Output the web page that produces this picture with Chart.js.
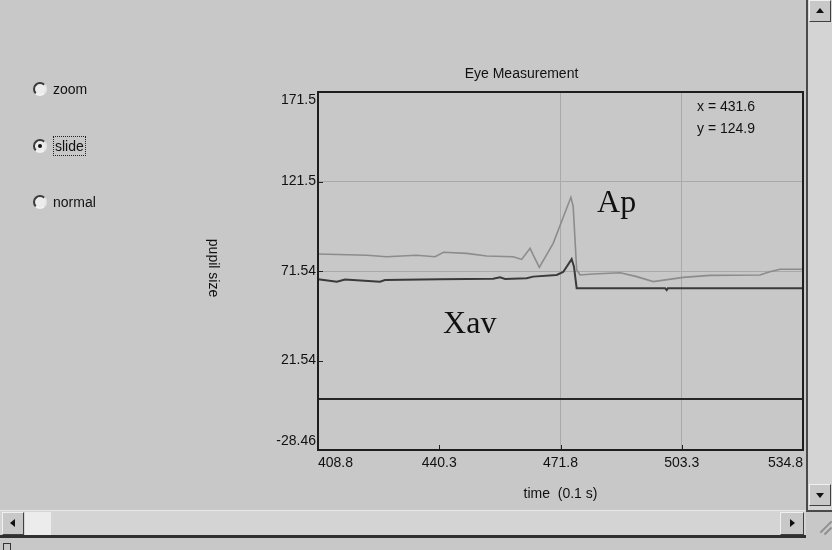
<!DOCTYPE html>
<html><head><meta charset="utf-8">
<script src="https://cdn.jsdelivr.net/npm/chart.js@4.4.1/dist/chart.umd.min.js"></script>
<style>
html,body{margin:0;padding:0;width:832px;height:550px;overflow:hidden;background:#c8c8c8;font-family:'Liberation Sans',Arial,sans-serif;color:#111;}
#c{position:absolute;left:0;top:0;}
.rb{position:absolute;left:33px;width:10px;height:10px;border-radius:50%;border:2px solid;border-color:#3a3a3a #e6e6e6 #f2f2f2 #3a3a3a;background:#ececec;}
.rb.on::after{content:"";position:absolute;left:3px;top:3px;width:4px;height:4px;border-radius:50%;background:#111;}
.lbl{position:absolute;font-size:14px;line-height:16px;}
.focus{outline:1px dotted #222;outline-offset:1px;}
.vs{position:absolute;left:806px;top:0;width:26px;height:510px;background:#d4d4d4;border-left:2px solid #4a4a4a;box-sizing:border-box;}
.hs{position:absolute;left:0;top:510px;width:806px;height:28px;background:#d4d4d4;border-top:1px solid #e8e8e8;border-bottom:3px solid #303030;box-sizing:border-box;}
.btn{position:absolute;background:#c8c8c8;border:1px solid;border-color:#f0f0f0 #404040 #404040 #f0f0f0;box-sizing:border-box;}
.tri{position:absolute;width:0;height:0;}
.corner{position:absolute;left:806px;top:510px;width:26px;height:30px;background:#c8c8c8;border-top:2px solid #4a4a4a;box-sizing:border-box;}
.bot{position:absolute;left:0;top:540px;width:832px;height:10px;background:#c8c8c8;}
</style></head>
<body>
<canvas id="c" width="832" height="550"></canvas>

<div class="rb" style="top:82px"></div><div class="lbl" style="left:53px;top:81px">zoom</div>
<div class="rb on" style="top:139px"></div><div class="lbl focus" style="left:55px;top:138px">slide</div>
<div class="rb" style="top:195px"></div><div class="lbl" style="left:53px;top:194px">normal</div>

<div class="vs">
  <div class="btn" style="left:1px;top:0;width:22px;height:22px"><div class="tri" style="left:6px;top:7px;border-left:4px solid transparent;border-right:4px solid transparent;border-bottom:5px solid #111"></div></div>
  <div class="btn" style="left:1px;top:484px;width:22px;height:22px"><div class="tri" style="left:6px;top:8px;border-left:4px solid transparent;border-right:4px solid transparent;border-top:5px solid #111"></div></div>
</div>
<div class="hs">
  <div class="btn" style="left:2px;top:1px;width:22px;height:23px"><div class="tri" style="left:7px;top:6px;border-top:4px solid transparent;border-bottom:4px solid transparent;border-right:5px solid #111"></div></div>
  <div style="position:absolute;left:25px;top:1px;width:26px;height:23px;background:#ececec;"></div>
  <div class="btn" style="left:780px;top:1px;width:24px;height:23px"><div class="tri" style="left:9px;top:6px;border-top:4px solid transparent;border-bottom:4px solid transparent;border-left:5px solid #111"></div></div>
</div>
<div class="corner">
  <div style="position:absolute;left:12px;top:14px;width:16px;height:2px;background:#909090;transform:rotate(-45deg)"></div>
  <div style="position:absolute;left:17px;top:18px;width:10px;height:2px;background:#909090;transform:rotate(-45deg)"></div>
</div>
<div class="bot"><div style="position:absolute;left:3px;top:3px;width:6px;height:6px;border:1px solid #333;"></div></div>

<script>
// ---- data ----
const xTickValues = [408.8, 440.3, 471.8, 503.3, 534.8];
const xTickLabels = ['408.8', '440.3', '471.8', '503.3', '534.8'];
const yTickValues = [-28.46, 21.54, 71.54, 121.54, 171.54];
const yTickLabels = ['-28.46', '21.54', '71.54', '121.5', '171.5'];

const apTime  = [408.8, 421.5, 426.6, 434.4, 439.2, 441.4, 447.4, 452.6, 459.5, 461.7, 463.9, 464.7, 466.3, 469.9, 474.5, 475.1, 476.0, 476.9, 480.2, 487.3, 491.6, 495.9, 503.7, 510.6, 523.6, 526.2, 528.8, 534.8];
const apValue = [81.0, 80.3, 79.5, 80.3, 79.5, 82.0, 81.4, 79.9, 79.5, 78.0, 84.2, 80.5, 73.6, 87.0, 112.7, 107.5, 72.1, 69.3, 69.9, 70.6, 68.4, 65.6, 68.0, 69.1, 69.3, 71.1, 72.5, 72.5];

const xavTime  = [408.8, 413.7, 415.8, 424.9, 426.2, 440.5, 454.3, 456.1, 457.4, 463.0, 464.7, 470.8, 472.5, 474.7, 475.3, 476.0, 499.0, 499.4, 499.7, 534.8];
const xavValue = [66.9, 65.6, 66.8, 65.6, 66.5, 66.9, 67.2, 68.0, 67.1, 67.5, 68.4, 69.3, 71.0, 78.2, 74.0, 61.9, 61.9, 60.9, 61.9, 61.9];

const baseTime  = [408.8, 534.8];
const baseValue = [0, 0];

const chartTitle = 'Eye Measurement';
const xTitle = 'time  (0.1 s)';
const yTitle = 'pupil size';
const readout = ['x = 431.6', 'y = 124.9'];
const seriesLabels = [{text: 'Ap', x: 481.3, y: 104.5}, {text: 'Xav', x: 441.3, y: 36.9}];

const pts = (xs, ys) => xs.map((x, i) => ({x, y: ys[i]}));

const SANS = "'Liberation Sans', Arial, sans-serif";

const extras = {
  id: 'extras',
  afterDraw(chart) {
    const {ctx, chartArea: a, scales: {x, y}} = chart;
    ctx.save();
    // inner tick marks
    ctx.strokeStyle = '#222'; ctx.lineWidth = 1;
    x.ticks.forEach((t, i) => {
      const px = Math.round(x.getPixelForValue(t.value)) + 0.5;
      ctx.beginPath(); ctx.moveTo(px, a.bottom); ctx.lineTo(px, a.bottom - 5); ctx.stroke();
    });
    y.ticks.forEach((t, i) => {
      const py = Math.round(y.getPixelForValue(t.value)) + 0.5;
      ctx.beginPath(); ctx.moveTo(a.left, py); ctx.lineTo(a.left + 5, py); ctx.stroke();
    });
    // frame
    ctx.strokeStyle = '#1e1e1e'; ctx.lineWidth = 2;
    ctx.strokeRect(a.left, a.top, a.right - a.left, a.bottom - a.top);
    // y title rotated clockwise
    ctx.fillStyle = '#111';
    ctx.font = '14px ' + SANS;
    ctx.textAlign = 'center'; ctx.textBaseline = 'middle';
    ctx.translate(213, (a.top + a.bottom) / 2 - 3);
    ctx.rotate(Math.PI / 2);
    ctx.fillText(yTitle, 0, 0);
    ctx.restore();

    ctx.save();
    // readout
    ctx.fillStyle = '#111';
    ctx.font = '14px ' + SANS;
    ctx.textAlign = 'left'; ctx.textBaseline = 'middle';
    ctx.fillText(readout[0], a.right - 106, a.top + 15);
    ctx.fillText(readout[1], a.right - 106, a.top + 37);
    // series labels
    ctx.font = '32px "Liberation Serif", "Times New Roman", serif';
    ctx.textBaseline = 'alphabetic';
    seriesLabels.forEach(l => {
      ctx.fillText(l.text, x.getPixelForValue(l.x), y.getPixelForValue(l.y));
    });
    ctx.restore();
  }
};

new Chart(document.getElementById('c'), {
  type: 'line',
  data: {
    datasets: [
      {label: 'Ap', data: pts(apTime, apValue), borderColor: '#8c8c8c', borderWidth: 1.6},
      {label: 'Xav', data: pts(xavTime, xavValue), borderColor: '#3a3a3a', borderWidth: 2},
      {label: 'base', data: pts(baseTime, baseValue), borderColor: '#262626', borderWidth: 2}
    ]
  },
  options: {
    responsive: false,
    animation: false,
    events: [],
    layout: {padding: {left: 240, right: 29, top: 0, bottom: 47.6}},
    elements: {point: {radius: 0}, line: {tension: 0, fill: false}},
    plugins: {
      legend: {display: false},
      tooltip: {enabled: false},
      title: {display: true, text: chartTitle, color: '#111', font: {family: SANS, size: 14, weight: 'normal'}, padding: {top: 66, bottom: 9.2}}
    },
    scales: {
      x: {
        type: 'linear', min: xTickValues[0], max: xTickValues[xTickValues.length - 1],
        afterBuildTicks: s => { s.ticks = xTickValues.map(v => ({value: v})); },
        afterFit: s => { s.height = 52.4; },
        ticks: {align: 'inner', padding: 5, color: '#111', font: {family: SANS, size: 14}, maxRotation: 0,
          callback: (v, i) => xTickLabels[i]},
        grid: {drawTicks: false, lineWidth: 1, color: c => (c.index === 1 ? 'rgba(0,0,0,0)' : '#a9a9a9')},
        border: {display: false},
        title: {display: true, text: xTitle, color: '#111', font: {family: SANS, size: 14}, padding: 0}
      },
      y: {
        type: 'linear', min: yTickValues[0], max: yTickValues[yTickValues.length - 1],
        afterBuildTicks: s => { s.ticks = yTickValues.map(v => ({value: v})); },
        afterFit: s => { s.width = 78; },
        ticks: {padding: 2, color: '#111', font: {family: SANS, size: 14},
          callback: (v, i) => i === 0 ? [yTickLabels[i], ''] : (i === yTickValues.length - 1 ? ['', yTickLabels[i]] : yTickLabels[i])},
        grid: {drawTicks: false, lineWidth: 1, color: c => (c.index === 1 ? 'rgba(0,0,0,0)' : '#a9a9a9')},
        border: {display: false}
      }
    }
  },
  plugins: [extras]
});
</script>
</body></html>
